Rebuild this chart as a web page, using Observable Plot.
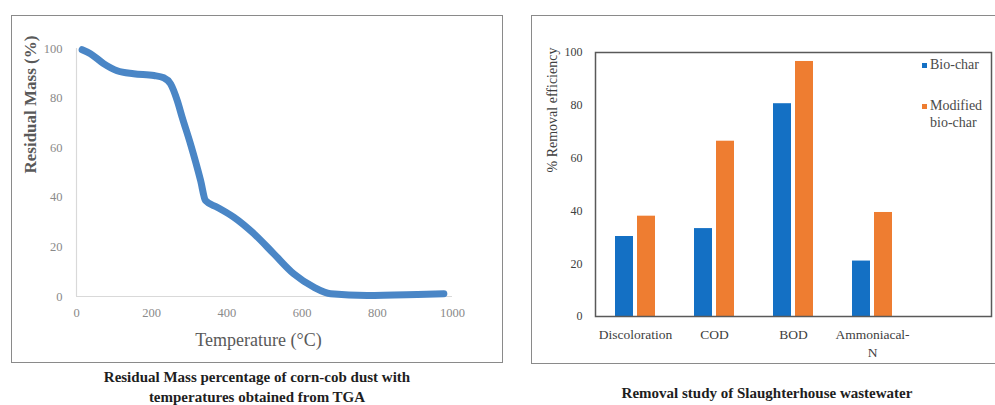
<!DOCTYPE html>
<html>
<head>
<meta charset="utf-8">
<script src="https://cdn.jsdelivr.net/npm/d3@7"></script>
<script src="https://cdn.jsdelivr.net/npm/@observablehq/plot@0.6"></script>
<style>
  html, body { margin: 0; padding: 0; background: #fff; }
  #page { position: relative; width: 995px; height: 405px; overflow: hidden; font-family: "Liberation Serif", "DejaVu Serif", serif; }
  .panel { position: absolute; border: 1.5px solid #8a8a8a; box-sizing: border-box; }
  .abs { position: absolute; }
  .caption { position: absolute; font-family: "Liberation Serif", "DejaVu Serif", serif; font-weight: bold; font-size: 15px; color: #1e1e1e; text-align: center; white-space: nowrap; line-height: 20px; }
  .legend { position: absolute; font-family: "Liberation Serif", "DejaVu Serif", serif; font-size: 14px; color: #4a4a4a; line-height: 17px; }
  .sw { position: absolute; width: 5px; height: 5px; }
</style>
</head>
<body>
<div id="page">
  <div class="panel" style="left:11px; top:15px; width:492px; height:348px;"></div>
  <div class="panel" style="left:531px; top:15px; width:470px; height:349px;"></div>
  <div id="left" class="abs" style="left:0; top:0;"></div>
  <div id="right" class="abs" style="left:530px; top:0;"></div>
  <div class="legend" style="left:930px; top:56px;">Bio-char</div>
  <div class="sw" style="left:922px; top:63px; background:#1470c4;"></div>
  <div class="legend" style="left:930px; top:97px;">Modified<br>bio-char</div>
  <div class="sw" style="left:922px; top:104px; background:#ee7d31;"></div>
  <div class="caption" style="left:57px; top:367px; width:400px;">Residual Mass percentage of corn-cob dust with<br>temperatures obtained from TGA</div>
  <div class="caption" style="left:567px; top:383px; width:400px;">Removal study of Slaughterhouse wastewater</div>
</div>
<script>
// ---- Left chart data (TGA) ----
const temperature = [15, 37, 73, 108, 152, 206, 232, 250, 268, 281, 303, 330, 343, 374, 418, 472, 525, 578, 631, 676, 773, 906, 977];
const residualMass = [99.5, 97.9, 93.8, 91.0, 89.8, 89.1, 88.2, 85.8, 79.0, 72.3, 61.6, 46.8, 38.7, 36.0, 32.0, 25.3, 17.2, 9.1, 3.8, 1.1, 0.4, 0.8, 1.1];
const tempTicks = [0, 200, 400, 600, 800, 1000];
const massTicks = [0, 20, 40, 60, 80, 100];

// ---- Right chart data (removal) ----
const parameters = ["Discoloration", "COD", "BOD", "Ammoniacal-N"];
const bioChar = [30.3, 33.3, 80.6, 21.0];
const modifiedBioChar = [38.0, 66.4, 96.6, 39.4];
const effTicks = [0, 20, 40, 60, 80, 100];

const tga = temperature.map((t, i) => ({t, m: residualMass[i]}));
const bio = parameters.map((p, i) => ({p, v: bioChar[i]}));
const mod = parameters.map((p, i) => ({p, v: modifiedBioChar[i]}));

const serif = "Liberation Serif, DejaVu Serif, serif";

const left = Plot.plot({
  width: 510, height: 370,
  marginLeft: 76, marginRight: 58, marginTop: 48, marginBottom: 74,
  style: {fontFamily: serif, background: "transparent", overflow: "visible"},
  x: {domain: [0, 1000]},
  y: {domain: [0, 100]},
  marks: [
    Plot.ruleX([0], {stroke: "#d9d9d9", strokeWidth: 1.2}),
    Plot.ruleY([0], {stroke: "#d9d9d9", strokeWidth: 1.2}),
    Plot.axisX({ticks: tempTicks, tickFormat: d => String(d), tickSize: 0, tickPadding: 12, fontSize: 12.5, color: "#8a8a8a", label: null}),
    Plot.axisY({ticks: massTicks, tickFormat: d => String(d), tickSize: 0, tickPadding: 14, fontSize: 12.5, color: "#8a8a8a", label: null}),
    Plot.line(tga, {x: "t", y: "m", curve: "monotone-x", stroke: "#4a86c6", strokeWidth: 7, strokeLinecap: "round", strokeLinejoin: "round"}),
    Plot.text(["Temperature (°C)"], {frameAnchor: "bottom", dy: 49, dx: -6, fontSize: 18, fill: "#595959"}),
    Plot.text(["Residual Mass (%)"], {frameAnchor: "left", rotate: -90, dx: -46, dy: 1, fontSize: 17, fontWeight: "bold", fill: "#595959"})
  ]
});
document.getElementById("left").appendChild(left);

const right = Plot.plot({
  width: 465, height: 370,
  marginLeft: 65, marginRight: 4, marginTop: 52, marginBottom: 54,
  style: {fontFamily: serif, background: "transparent", overflow: "visible"},
  x: {domain: parameters, range: [65, 381], paddingInner: 0.5, paddingOuter: 0.25},
  y: {domain: [0, 100]},
  marks: [
    Plot.barY(bio, {x: "p", y: "v", fill: "#1470c4", insetRight: 22}),
    Plot.barY(mod, {x: "p", y: "v", fill: "#ee7d31", insetLeft: 22}),
    Plot.frame({stroke: "#595959", strokeWidth: 1.5}),
    Plot.axisX({tickSize: 0, tickPadding: 10, fontSize: 13.5, color: "#404040", label: null, lineHeight: 1.3,
      tickFormat: d => d === "Ammoniacal-N" ? "Ammoniacal-\nN" : d}),
    Plot.axisY({ticks: effTicks, tickFormat: d => String(d), tickSize: 0, tickPadding: 13, fontSize: 12, color: "#404040", label: null}),
    Plot.text(["% Removal efficiency"], {frameAnchor: "left", rotate: -90, dx: -43, dy: -12, fontSize: 14, fill: "#404040"})
  ]
});
document.getElementById("right").appendChild(right);
</script>
</body>
</html>
